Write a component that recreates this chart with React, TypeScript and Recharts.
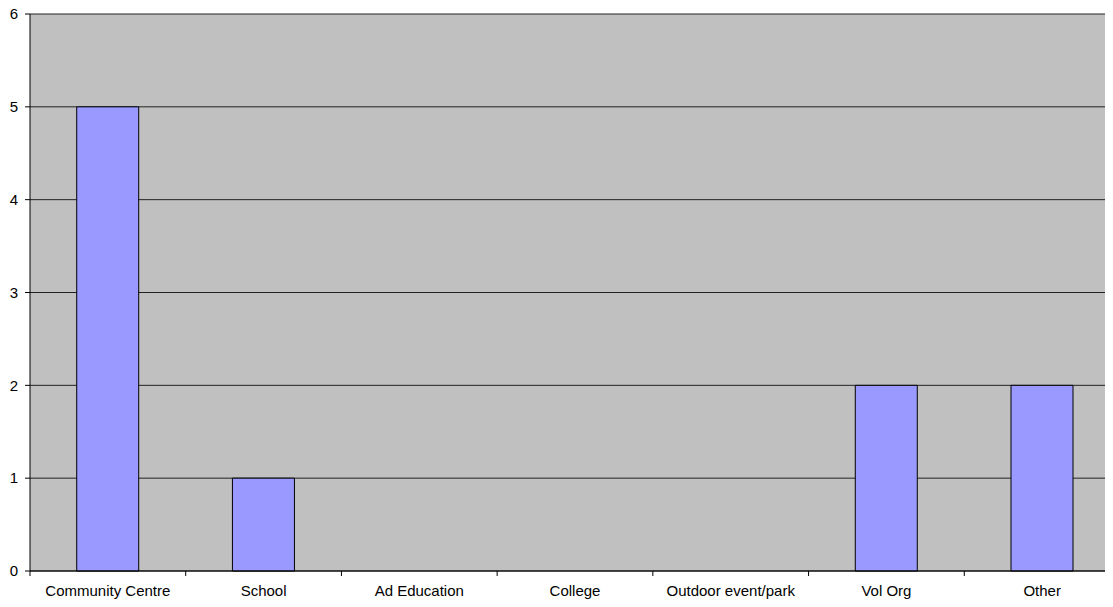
import { BarChart, Bar, XAxis, YAxis, CartesianGrid } from 'recharts'

const categories = ['Community Centre', 'School', 'Ad Education', 'College', 'Outdoor event/park', 'Vol Org', 'Other']
const counts     = [5, 1, 0, 0, 0, 2, 2]
const yTicks     = [0, 1, 2, 3, 4, 5, 6]

const data = categories.map((name, i) => ({ name, value: counts[i] }))

const W = 1113
const H = 607
const CHART_W = 1120 // plot runs a few px past the right edge in the original
const PLOT_LEFT = 30
const BAND = (CHART_W - PLOT_LEFT) / categories.length

const FONT = 'Arial, "Liberation Sans", sans-serif'

// category label plus the small tick marks between categories
const XTick = (props: any) => {
  const { x, y, payload, index } = props
  const left = x - BAND / 2
  const right = x + BAND / 2
  return (
    <g>
      <line x1={left} y1={y - 8} x2={left} y2={y - 3} stroke="#000" />
      {index === categories.length - 1 && (
        <line x1={right} y1={y - 8} x2={right} y2={y - 3} stroke="#000" />
      )}
      <text x={x} y={y + 17} textAnchor="middle" fill="#000" fontSize={15} fontFamily={FONT}>
        {payload.value}
      </text>
    </g>
  )
}

export default function App() {
  return (
    <div style={{ margin: -8, width: W, height: H, background: '#fff', overflow: 'hidden' }}>
      <BarChart
        width={CHART_W}
        height={H}
        data={data}
        margin={{ top: 14, right: 0, left: 0, bottom: 0 }}
        barCategoryGap="30%"
      >
        <CartesianGrid vertical={false} stroke="#222" fill="#C0C0C0" fillOpacity={1} />
        <XAxis
          dataKey="name"
          height={36}
          interval={0}
          tickLine={false}
          axisLine={{ stroke: '#000' }}
          tick={<XTick />}
        />
        <YAxis
          width={PLOT_LEFT}
          domain={[0, 6]}
          ticks={yTicks}
          interval={0}
          tickSize={5}
          tickMargin={7}
          tickLine={{ stroke: '#000' }}
          axisLine={{ stroke: '#000' }}
          tick={{ fill: '#000', fontSize: 15, fontFamily: FONT }}
        />
        <Bar dataKey="value" fill="#9999FF" stroke="#000" strokeWidth={1} isAnimationActive={false} />
      </BarChart>
    </div>
  )
}
